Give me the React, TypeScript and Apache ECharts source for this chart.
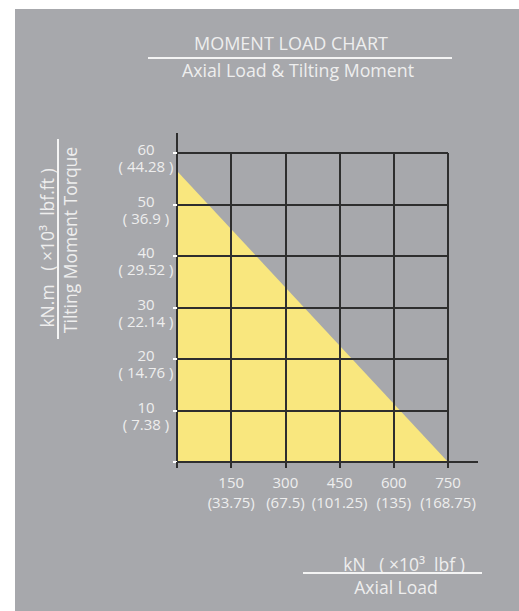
import React, { useEffect, useRef } from "react";
import * as echarts from "echarts";

const xTicks = [0, 150, 300, 450, 600, 750];
const xTickImperial = ["", "33.75", "67.5", "101.25", "135", "168.75"];
const yTicks = [0, 10, 20, 30, 40, 50, 60];
const yTickImperial = ["", "7.38", "14.76", "22.14", "29.52", "36.9", "44.28"];
const loadLimit = [
  [0, 56.5],
  [750, 0],
];

const FONT = "Open Sans";
const TXT = "#eeeeee";
const GRIDC = "#2e2e2e";

export default function App() {
  const ref = useRef<HTMLDivElement>(null);
  useEffect(() => {
    if (!ref.current) return;
    const chart = echarts.init(ref.current, undefined, { renderer: "svg" });
    const option: any = {
      animation: false,
      backgroundColor: "#a7a8ac",
      grid: { left: 162, top: 144, width: 271, height: 309, containLabel: false },
      xAxis: {
        type: "value",
        min: 0,
        max: 750,
        interval: 150,
        axisLine: { show: true, lineStyle: { color: GRIDC, width: 2 } },
        axisTick: { show: true, length: 6, lineStyle: { color: GRIDC, width: 2 } },
        splitLine: { show: true, lineStyle: { color: GRIDC, width: 2 } },
        axisLabel: {
          color: TXT,
          fontFamily: FONT,
          fontSize: 15,
          lineHeight: 20,
          margin: 10,
          formatter: (v: number) => {
            const i = xTicks.indexOf(v);
            if (v === 0 || i < 0) return "";
            return `${v}\n(${xTickImperial[i]})`;
          },
        },
      },
      yAxis: {
        type: "value",
        min: 0,
        max: 60,
        interval: 10,
        axisLine: { show: true, lineStyle: { color: GRIDC, width: 2 } },
        axisTick: { show: true, length: 4, lineStyle: { color: "#ffffff", width: 2 } },
        splitLine: { show: true, lineStyle: { color: GRIDC, width: 2 } },
        axisLabel: {
          color: TXT,
          fontFamily: FONT,
          fontSize: 15,
          margin: 31,
          align: "center",
          verticalAlign: "middle",
          rich: {
            e: { fontSize: 4, lineHeight: 9, color: TXT, fontFamily: FONT },
            n: { fontSize: 15, lineHeight: 17, color: TXT, fontFamily: FONT },
          },
          formatter: (v: number) => {
            const i = yTicks.indexOf(v);
            if (v === 0 || i < 0) return "";
            return `{e| }\n{n|${v}}\n{n|( ${yTickImperial[i]} )}`;
          },
        },
      },
      series: [
        {
          type: "line",
          data: loadLimit,
          symbol: "none",
          z: -1,
          lineStyle: { width: 0 },
          areaStyle: { color: "#f9e77e", opacity: 1 },
        },
      ],
    };
    chart.setOption(option);

    const top = chart.convertToPixel({ gridIndex: 0 }, [0, 60]) as number[];
    const right = chart.convertToPixel({ gridIndex: 0 }, [750, 0]) as number[];

    const txt = (x: number, y: number, text: string, size: number, rotation = 0) => ({
      type: "text",
      x,
      y,
      rotation,
      style: {
        text,
        fill: TXT,
        font: `${size}px "${FONT}"`,
        align: "center",
        verticalAlign: "middle",
      },
    });
    const ln = (x1: number, y1: number, x2: number, y2: number, color: string, w: number) => ({
      type: "line",
      shape: { x1, y1, x2, y2 },
      style: { stroke: color, lineWidth: w },
    });

    chart.setOption({
      graphic: [
        ln(top[0], top[1] - 20, top[0], top[1], GRIDC, 2),
        ln(right[0], right[1], right[0] + 30, right[1], GRIDC, 2),
        txt(276, 34, "MOMENT LOAD CHART", 18),
        ln(133, 49, 437, 49, "#f4f4f4", 2),
        txt(283, 61, "Axial Load & Tilting Moment", 17.8),
        txt(32, 239, "kN.m   ( ×10³  lbf.ft )", 17.5, Math.PI / 2),
        ln(43, 130, 43, 330, "#f4f4f4", 2),
        txt(55, 231, "Tilting Moment Torque", 17.5, Math.PI / 2),
        txt(389, 554.5, "kN   ( ×10³  lbf )", 17.5),
        ln(288, 564, 467, 564, "#f4f4f4", 2),
        txt(381, 577.5, "Axial Load", 17.5),
      ],
    });
    return () => chart.dispose();
  }, []);
  return (
    <div
      ref={ref}
      style={{ position: "absolute", left: 15, top: 9, width: 504, height: 602 }}
    />
  );
}
